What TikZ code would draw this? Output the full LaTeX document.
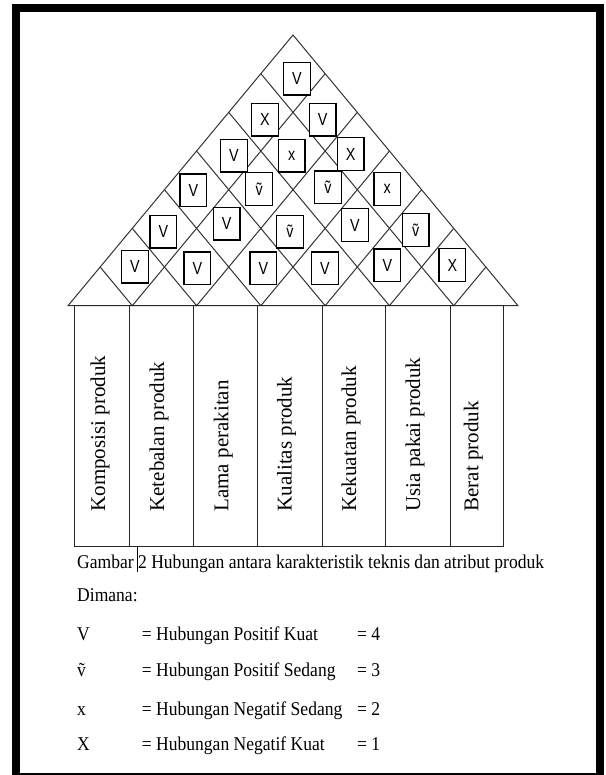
\documentclass[tikz,border=0pt]{standalone}
\usepackage{fontspec}
\setmainfont{Liberation Serif}
\newfontfamily\capfont[FakeStretch=0.9]{Liberation Serif}
\newfontfamily\boxfont[FakeStretch=0.82]{Liberation Sans}
\begin{document}
\begin{tikzpicture}[x=1pt,y=-1pt,
  frame/.style={line width=8pt},
  grid/.style={line width=1pt, draw=black!80},
  colline/.style={line width=1pt, draw=black!85},
  cell/.style={draw, line width=1.2pt, fill=white, minimum width=26.7pt, minimum height=32.7pt,
    inner sep=0pt, font=\boxfont\fontsize{17.5}{17.5}\selectfont},
  coltext/.style={rotate=90, anchor=base west, inner sep=0pt, font=\fontsize{21}{21}\selectfont},
  legend/.style={anchor=base west, inner sep=0pt, font=\capfont\fontsize{19.5}{20}\selectfont}]
\useasboundingbox (0,0) rectangle (605,775);
\draw[frame] (16,8) rectangle (600,777);

% roof
\coordinate (b0) at (68,305.7);
\coordinate (b7) at (518,305.7);
\coordinate (apex) at (293,35);
\draw[grid] (b0) -- (apex) -- (b7) -- cycle;
\foreach \i in {1,...,6}{
  \pgfmathsetmacro\xa{68+64.2857*\i}
  \pgfmathsetmacro\xr{(\xa+518)/2}
  \pgfmathsetmacro\yr{305.7-(7-\i)*38.671}
  \pgfmathsetmacro\xl{(68+\xa)/2}
  \pgfmathsetmacro\yl{305.7-\i*38.671}
  \draw[grid] (\xl,\yl) -- (\xa,305.7) -- (\xr,\yr);
}

% relationship cells
\node[cell] (c17) at (297,78.7) {V};
\node[cell] (c16) at (265,119.7) {X};
\node[cell] (c27) at (322.7,119.7) {V};
\node[cell] (c15) at (234,155.7) {V};
\node[cell] (c26) at (291.7,155.7) {x};
\node[cell] (c37) at (350.7,154) {X};
\node[cell] (c14) at (193.3,190.3) {V};
\node[cell] (c25) at (259.2,189) {v^^^^0303};
\node[cell] (c36) at (328,187.3) {v^^^^0303};
\node[cell] (c47) at (387.3,189) {x};
\node[cell] (c13) at (163.3,231.7) {V};
\node[cell] (c24) at (226.7,223.7) {V};
\node[cell] (c35) at (290,231.7) {v^^^^0303};
\node[cell] (c46) at (355,225.2) {V};
\node[cell] (c57) at (415.7,230) {v^^^^0303};
\node[cell] (c12) at (135,266.7) {V};
\node[cell] (c23) at (197.3,268.3) {V};
\node[cell] (c34) at (263.3,268.3) {V};
\node[cell] (c45) at (325,268.3) {V};
\node[cell] (c56) at (387.3,265.3) {V};
\node[cell] (c67) at (452.3,265) {X};

% columns
\draw[colline] (74,305.7) rectangle (503.3,546.7);
\foreach \x in {129,193.7,257,322,385,450}{
  \draw[colline] (\x,305.7) -- (\x,546.7);
}
\node[coltext] (t1) at (105,511.7) {Komposisi produk};
\node[coltext] (t2) at (164,511.7) {Ketebalan produk};
\node[coltext] (t3) at (228.3,511.7) {Lama perakitan};
\node[coltext] (t4) at (291.7,511.7) {Kualitas produk};
\node[coltext] (t5) at (356,511.7) {Kekuatan produk};
\node[coltext] (t6) at (420,511.7) {Usia pakai produk};
\node[coltext] (t7) at (478.3,511.7) {Berat produk};

% cursor mark
\draw[line width=0.8pt] (137.5,546.7) -- (137.5,572);

% caption and legend
\node[legend] (cap) at (77,568.3) {Gambar 2 Hubungan antara karakteristik teknis dan atribut produk};
\node[legend] (dim) at (77,601.7) {Dimana:};
\node[legend] (s1) at (77,640.7) {V};
\node[legend] (d1) at (141.7,640.7) {= Hubungan Positif Kuat};
\node[legend] (v1) at (357,640.7) {= 4};
\node[legend] (s2) at (77,676.7) {v^^^^0303};
\node[legend] (d2) at (141.7,676.7) {= Hubungan Positif Sedang};
\node[legend] (v2) at (357,676.7) {= 3};
\node[legend] (s3) at (77,715) {x};
\node[legend] (d3) at (141.7,715) {= Hubungan Negatif Sedang};
\node[legend] (v3) at (357,715) {= 2};
\node[legend] (s4) at (77,750) {X};
\node[legend] (d4) at (141.7,750) {= Hubungan Negatif Kuat};
\node[legend] (v4) at (357,750) {= 1};
\end{tikzpicture}
\end{document}
